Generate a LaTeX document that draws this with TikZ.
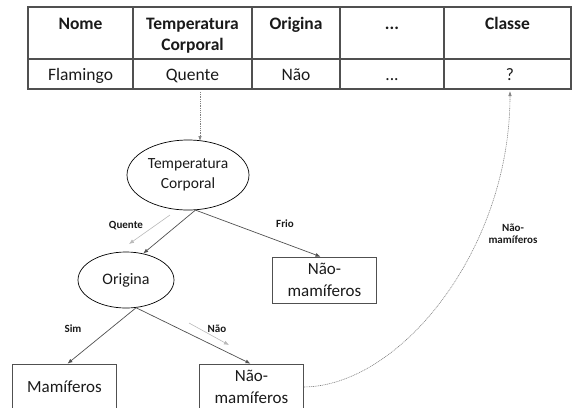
\documentclass[tikz,border=0pt]{standalone}
\usepackage{fontspec}
\setmainfont{Carlito}
\usetikzlibrary{shapes.geometric,arrows.meta,calc}
\definecolor{linegray}{HTML}{505050}
\definecolor{txt}{HTML}{1A1A1A}
\begin{document}
\begin{tikzpicture}[x=1pt,y=-1pt,
  every node/.style={text=txt},
  hdr/.style={font=\fontsize{17.5}{21}\selectfont\bfseries, align=center, anchor=base, inner sep=0pt},
  cell/.style={font=\fontsize{17.5}{21}\selectfont, anchor=base, inner sep=0pt},
  ell/.style={ellipse, draw=black, line width=0.7pt, inner sep=0pt, align=center, font=\fontsize{15.5}{20}\selectfont},
  leaf/.style={rectangle, draw=linegray, line width=0.7pt, inner sep=0pt, align=center, minimum width=104pt, minimum height=46pt, font=\fontsize{17}{21.5}\selectfont},
  elab/.style={font=\fontsize{11}{12}\selectfont\bfseries, inner sep=0pt, align=center},
  edge/.style={draw=linegray, line width=0.7pt, -{Latex[length=5pt,width=4pt]}},
  ghost/.style={draw=gray!55, line width=0.6pt, -{Latex[length=5pt,width=4pt]}},
  dots/.style={draw=gray, line width=0.6pt, dash pattern=on 1pt off 0.8pt, -{Latex[length=5pt,width=3.5pt]}}
]
\useasboundingbox (0,0) rectangle (572,407);
\clip (0,0) rectangle (572,407);
% table
\draw[linegray, line width=1.1pt] (28,7) rectangle (571,89);
\draw[linegray, line width=1.1pt] (28,59) -- (571,59);
\foreach \x in {133,252,340,444} \draw[linegray, line width=1.1pt] (\x,7) -- (\x,89);
\node[hdr] (h1) at (80.5,29) {Nome};
\node[hdr, anchor=north] (h2) at (192.5,17.5) {Temperatura\\Corporal};
\node[hdr] (h3) at (296,29) {Origina};
\node[hdr] (h4) at (392,29) {...};
\node[hdr] (h5) at (507.5,29) {Classe};
\node[cell] (c1) at (80.5,80) {Flamingo};
\node[cell] (c2) at (192.5,80) {Quente};
\node[cell] (c3) at (296,80) {Não};
\node[cell] (c4) at (392,80) {...};
\node[cell] (c5) at (510,80) {?};
% tree
\node[ell, minimum width=122pt, minimum height=70pt] (tc) at (188,175) {Temperatura\\Corporal};
\node[ell, minimum width=96pt, minimum height=56pt, font=\fontsize{16}{20}\selectfont] (og) at (126,280) {Origina};
\node[leaf] (fr) at (324.5,280) {Não-\\mamíferos};
\node[leaf] (mm) at (64.5,387) {Mamíferos};
\node[leaf] (nb) at (251.5,387) {Não-\\mamíferos};
% connectors
\coordinate (qs) at (200,92);
\draw[dots] (qs) -- (200,141);
\draw[edge] (tc.-78) -- (og.57);
\draw[edge] (tc.-78) -- ($(fr.north)+(-4,0)$);
\draw[edge] (og.-70) -- ($(mm.north)+(3,0)$);
\draw[edge] (og.-70) -- ($(nb.north)+(-1,0)$);
\coordinate (g1s) at (170,215);
\coordinate (g1e) at (129,244);
\draw[ghost] (g1s) -- (g1e);
\coordinate (g2s) at (189,323);
\coordinate (g2e) at (229,345);
\draw[ghost] (g2s) -- (g2e);
\coordinate (qm) at (510,91);
\draw[dots] (nb.east) .. controls (400,386) and (510,250) .. (qm);
% edge labels
\node[elab] (lq) at (126,226) {Quente};
\node[elab] (lf) at (285,224) {Frio};
\node[elab] (ls) at (73,329) {Sim};
\node[elab] (ln) at (217,329) {Não};
\node[elab] (lnm) at (513,234) {Não-\\mamíferos};
\end{tikzpicture}
\end{document}
